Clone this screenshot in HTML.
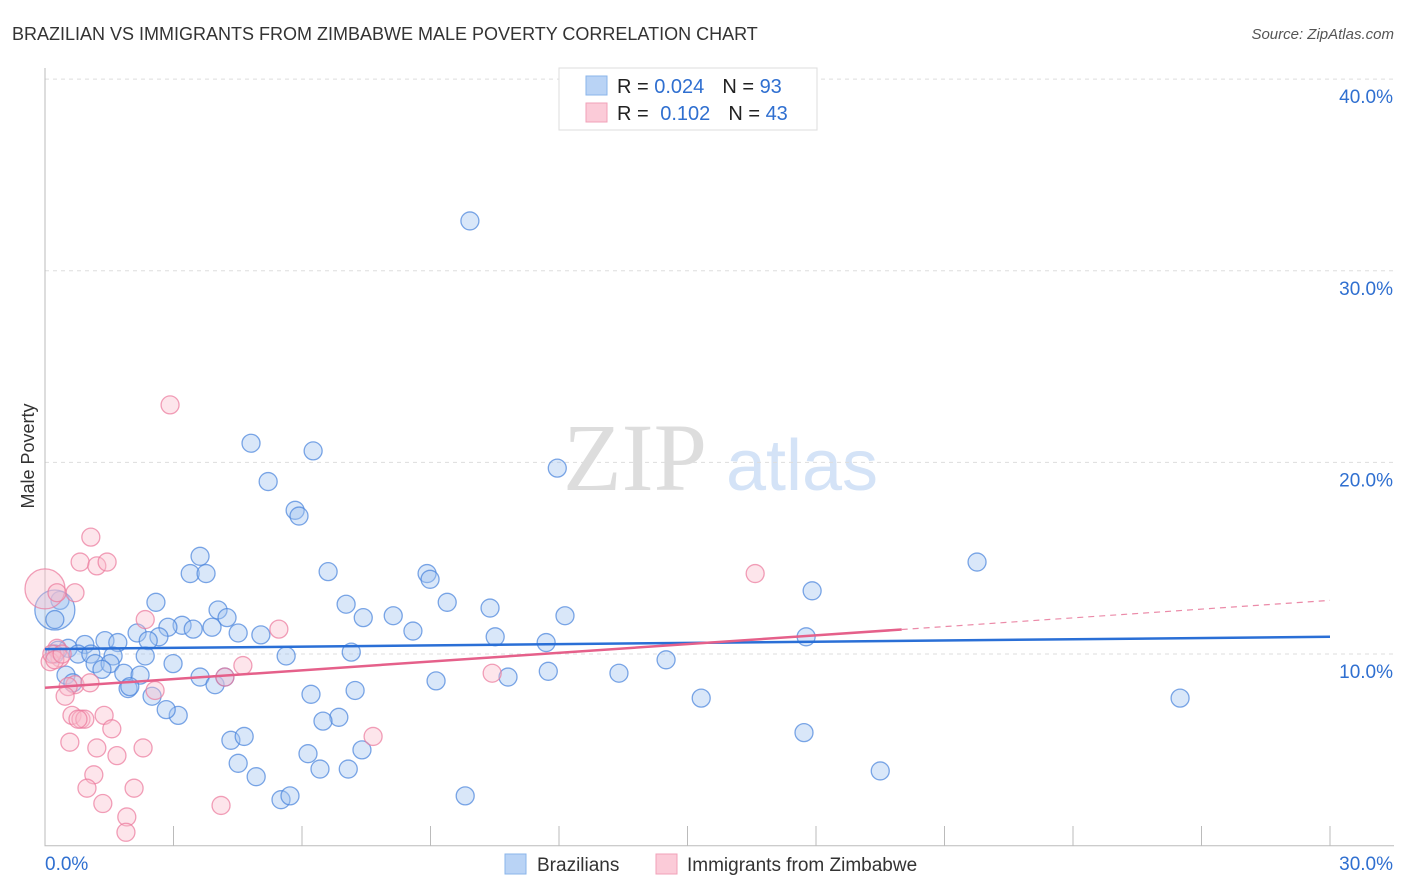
<!DOCTYPE html>
<html><head><meta charset="utf-8"><style>
body{margin:0;background:#fff;font-family:"Liberation Sans",sans-serif;}
svg{display:block}
</style></head><body>
<svg id="chart" width="1406" height="892">
<text x="12" y="40" font-size="18" fill="#333">BRAZILIAN VS IMMIGRANTS FROM ZIMBABWE MALE POVERTY CORRELATION CHART</text>
<text x="1394" y="39" font-size="15" fill="#555" font-style="italic" text-anchor="end">Source: ZipAtlas.com</text>
<text x="34" y="456" font-size="18" fill="#333" text-anchor="middle" transform="rotate(-90 34 456)">Male Poverty</text>
<g>
<text x="635" y="490" font-size="96" fill="#ddd" font-family="Liberation Serif,serif" text-anchor="middle">ZIP</text>
<text x="802" y="490" font-size="72" fill="#d4e3f7" text-anchor="middle">atlas</text>
</g>
<g id="grid"></g><g id="axes"></g><g id="pts"></g><g id="lines"></g>
<g>
<rect x="559" y="68" width="258" height="62" fill="#fff" stroke="#ddd"/>
<rect x="586" y="76" width="21" height="19" fill="#b9d3f5" stroke="#8ab4ea"/>
<text x="617" y="93" font-size="20" fill="#222">R = <tspan fill="#2f6fd0">0.024</tspan><tspan dx="18">N = </tspan><tspan fill="#2f6fd0">93</tspan></text>
<rect x="586" y="103" width="21" height="19" fill="#fbcbd8" stroke="#f0a2b8"/>
<text x="617" y="120" font-size="20" fill="#222">R = <tspan dx="6" fill="#2f6fd0">0.102</tspan><tspan dx="18">N = </tspan><tspan fill="#2f6fd0">43</tspan></text>
</g>
<g>
<rect x="505" y="854" width="21" height="20" fill="#b9d3f5" stroke="#8ab4ea"/>
<text x="537" y="871" font-size="19" fill="#333">Brazilians</text>
<rect x="656" y="854" width="21" height="20" fill="#fbcbd8" stroke="#f0a2b8"/>
<text x="687" y="871" font-size="19" fill="#333">Immigrants from Zimbabwe</text>
</g>
</svg>
<script>
const yTicks=[10,20,30,40];
const yTickLabels=["10.0%","20.0%","30.0%","40.0%"];
const xTickLabels=["0.0%","30.0%"];
const blueX=[9.92,4.81,6.26,11.96,5.21,5.84,5.93,21.76,3.62,3.39,3.76,6.61,8.92,8.99,17.91,2.59,4.04,7.03,9.39,10.39,12.14,8.13,4.25,7.43,3.20,2.87,3.46,3.90,2.15,2.66,4.51,5.04,8.59,10.51,11.70,17.77,2.41,1.40,0.93,0.54,0.30,0.23,0.77,1.07,1.70,1.59,2.34,2.99,5.63,7.15,1.17,1.52,1.33,1.84,2.22,0.49,0.65,1.94,1.98,2.50,3.62,3.97,4.20,7.24,9.13,10.81,11.75,13.40,14.50,6.21,3.11,2.83,6.86,6.49,4.34,4.65,15.32,17.72,26.50,7.40,6.14,4.51,4.93,6.42,7.08,19.50,5.51,5.72,9.81,0.35,0.23,0.23];
const blueY=[32.6,21.0,20.6,19.7,19.0,17.5,17.2,14.8,15.1,14.2,14.2,14.3,14.2,13.9,13.3,12.7,12.3,12.6,12.7,12.4,12.0,12.0,11.9,11.9,11.5,11.4,11.3,11.4,11.1,10.9,11.1,11.0,11.2,10.9,10.6,10.9,10.7,10.7,10.5,10.3,10.2,10.0,10.0,10.0,10.6,9.9,9.9,9.5,9.9,10.1,9.5,9.5,9.2,9.0,8.9,8.9,8.5,8.2,8.3,7.8,8.8,8.4,8.8,8.1,8.6,8.8,9.1,9.0,9.7,7.9,6.8,7.1,6.7,6.5,5.5,5.7,7.7,5.9,7.7,5.0,4.8,4.3,3.6,4.0,4.0,3.9,2.4,2.6,2.6,12.8,12.3,11.8];
const blueR=[9,9,9,9,9,9,9,9,9,9,9,9,9,9,9,9,9,9,9,9,9,9,9,9,9,9,9,9,9,9,9,9,9,9,9,9,9,9,9,9,9,9,9,9,9,9,9,9,9,9,9,9,9,9,9,9,9,9,9,9,9,9,9,9,9,9,9,9,9,9,9,9,9,9,9,9,9,9,9,9,9,9,9,9,9,9,9,9,9,9,20,9];
const pinkX=[2.92,1.07,0.82,1.21,1.45,16.58,0.70,0,0.28,2.34,5.46,0.28,0.35,0.12,0.16,4.62,10.44,0.70,1.05,0.54,2.57,4.20,0.47,0.63,1.38,0.84,0.93,0.77,1.56,0.58,7.66,1.21,2.29,1.68,1.14,2.08,0.98,1.35,4.11,1.91,1.89,0.23,0.40];
const pinkY=[23.0,16.1,14.8,14.6,14.8,14.2,13.2,13.4,13.2,11.8,11.3,10.3,9.8,9.6,10.0,9.4,9.0,8.4,8.5,8.3,8.1,8.8,7.8,6.8,6.8,6.6,6.6,6.6,6.1,5.4,5.7,5.1,5.1,4.7,3.7,3.0,3.0,2.2,2.1,1.5,0.7,9.7,10.0];
const pinkR=[9,9,9,9,9,9,9,20,9,9,9,9,9,9,9,9,9,9,9,9,9,9,9,9,9,9,9,9,9,9,9,9,9,9,9,9,9,9,9,9,9,9,9];
const blueTrend=[10.26,10.9];
const pinkTrend=[8.24,12.8];
const pinkSolidEnd=20.0;

const NS="http://www.w3.org/2000/svg";
const X0=45,X1=1330,Y0=845.7,PPU=19.165;
const xs=v=>X0+v/30*(X1-X0);
const ys=v=>Y0-v*PPU;
function mk(tag,attrs,parent){const e=document.createElementNS(NS,tag);for(const k in attrs)e.setAttribute(k,attrs[k]);parent.appendChild(e);return e;}
const grid=document.getElementById('grid'),axes=document.getElementById('axes'),pts=document.getElementById('pts'),lines=document.getElementById('lines');
yTicks.forEach((t,i)=>{
 const l=mk('line',{x1:X0,x2:1394,y1:ys(t),y2:ys(t),stroke:'#ddd','stroke-dasharray':'4,4'},grid);
 
 
 const tx=mk('text',{x:1393,y:ys(t)+24,'font-size':19,fill:'#2f6fd0','text-anchor':'end'},axes);
 tx.textContent=yTickLabels[i];
 
 
});
const ax=mk('path',{d:`M${X0} 68V${Y0}H1394`,stroke:'#bbb',fill:'none'},axes);


for(let i=1;i<=10;i++){
 const tk=mk('line',{x1:xs(i*3),x2:xs(i*3),y1:826,y2:Y0,stroke:'#bbb'},axes);
 
 
}
const xl0=mk('text',{x:45,y:870,'font-size':19,fill:'#2f6fd0'},axes);xl0.textContent=xTickLabels[0];


const xl1=mk('text',{x:1393,y:870,'font-size':19,fill:'#2f6fd0','text-anchor':'end'},axes);xl1.textContent=xTickLabels[1];


blueX.forEach((v,i)=>{
 const c=mk('circle',{cx:xs(v),cy:ys(blueY[i]),r:blueR[i]||9,fill:'rgba(160,196,240,0.4)',stroke:'rgba(70,130,220,0.7)','stroke-width':1.3},pts);
 
 
});
pinkX.forEach((v,i)=>{
 const c=mk('circle',{cx:xs(v),cy:ys(pinkY[i]),r:pinkR[i]||9,fill:'rgba(250,190,206,0.4)',stroke:'rgba(235,120,155,0.7)','stroke-width':1.3},pts);
 
 
});
const bl=mk('line',{x1:xs(0),y1:ys(blueTrend[0]),x2:xs(30),y2:ys(blueTrend[1]),stroke:'#2a6fd6','stroke-width':2.5},lines);


const pAt=x=>pinkTrend[0]+(pinkTrend[1]-pinkTrend[0])*x/30;
const pl=mk('line',{x1:xs(0),y1:ys(pAt(0)),x2:xs(pinkSolidEnd),y2:ys(pAt(pinkSolidEnd)),stroke:'#e5608a','stroke-width':2.5},lines);


const pd=mk('line',{x1:xs(pinkSolidEnd),y1:ys(pAt(pinkSolidEnd)),x2:xs(30),y2:ys(pAt(30)),stroke:'#eb8aa8','stroke-width':1.2,'stroke-dasharray':'6,5'},lines);


</script>
</body></html>
